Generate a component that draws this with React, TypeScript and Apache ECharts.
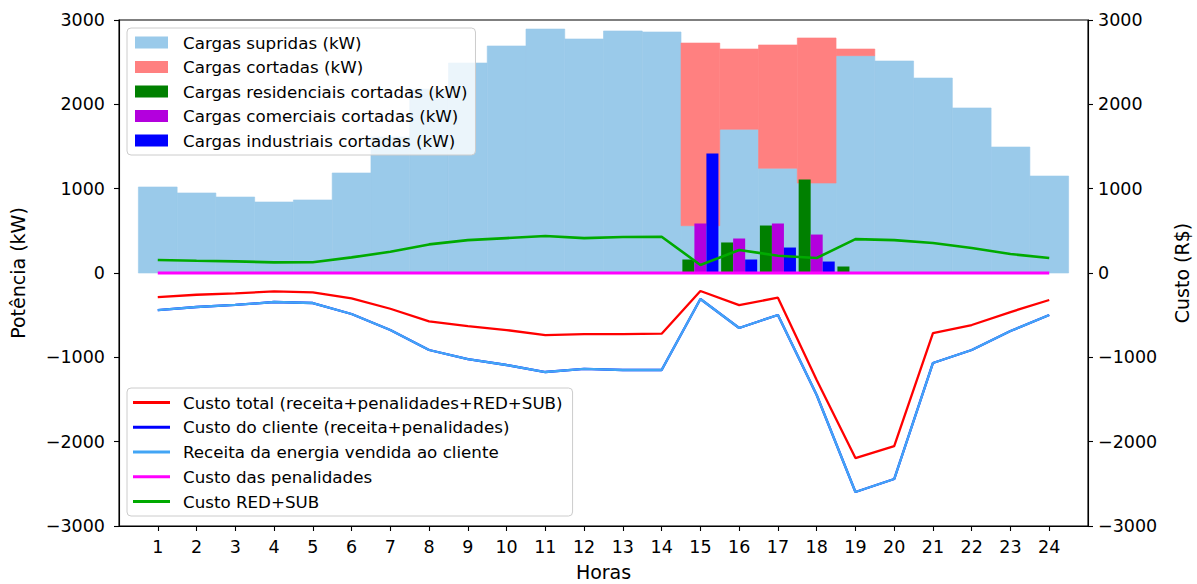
import React, { useEffect, useRef } from "react";
import * as echarts from "echarts";

// Hours of the day (x axis)
const hours = [1, 2, 3, 4, 5, 6, 7, 8, 9, 10, 11, 12, 13, 14, 15, 16, 17, 18, 19, 20, 21, 22, 23, 24];

// Power (kW)
const suppliedLoad = [1020, 949, 901, 842, 866, 1186, 1613, 2180, 2490, 2692, 2893, 2775, 2870, 2858, 561, 1704, 1242, 1067, 2577, 2514, 2312, 1957, 1494, 1150];
const cutLoad = [0, 0, 0, 0, 0, 0, 0, 0, 0, 0, 0, 0, 0, 0, 2166, 952, 1462, 1720, 79, 0, 0, 0, 0, 0];
const residentialCut = [0, 0, 0, 0, 0, 0, 0, 0, 0, 0, 0, 0, 0, 0, 160, 362, 563, 1109, 77, 0, 0, 0, 0, 0];
const commercialCut = [0, 0, 0, 0, 0, 0, 0, 0, 0, 0, 0, 0, 0, 0, 587, 409, 587, 456, 0, 0, 0, 0, 0, 0];
const industrialCut = [0, 0, 0, 0, 0, 0, 0, 0, 0, 0, 0, 0, 0, 0, 1417, 160, 302, 136, 0, 0, 0, 0, 0, 0];

// Costs (R$)
const totalCost = [-285, -258, -241, -218, -229, -301, -424, -574, -630, -677, -736, -724, -724, -720, -213, -380, -293, -1269, -2195, -2053, -712, -617, -463, -320];
const clientCost = [-439, -403, -379, -344, -356, -486, -676, -913, -1020, -1091, -1174, -1138, -1150, -1150, -308, -652, -498, -1447, -2597, -2443, -1067, -913, -688, -498];
const energyRevenue = [-439, -403, -379, -344, -356, -486, -676, -913, -1020, -1091, -1174, -1138, -1150, -1150, -308, -652, -498, -1447, -2597, -2443, -1067, -913, -688, -498];
const penaltyCost = [0, 0, 0, 0, 0, 0, 0, 0, 0, 0, 0, 0, 0, 0, 0, 0, 0, 0, 0, 0, 0, 0, 0, 0];
const redSubCost = [154, 145, 138, 126, 127, 185, 252, 339, 390, 414, 438, 414, 426, 430, 95, 272, 205, 178, 402, 390, 355, 296, 225, 178];

const yTicks = [-3000, -2000, -1000, 0, 1000, 2000, 3000];

const FONT = "DejaVu Sans";
const fmt = (v: number) => String(v).replace("-", "\u2212");

type Row = number[];

function rectSeries(name: string, color: string, data: Row[], width: number, offset: number, z: number, seamless: boolean) {
  return {
    type: "custom",
    name,
    z,
    xAxisIndex: 0,
    yAxisIndex: 0,
    itemStyle: { color },
    encode: { x: 0, y: 2 },
    data,
    renderItem: (_params: any, api: any) => {
      const x = api.value(0) as number;
      const lo = api.value(1) as number;
      const hi = api.value(2) as number;
      if (hi === lo) return null;
      const a = api.coord([x + offset - width / 2, lo]);
      const b = api.coord([x + offset + width / 2, hi]);
      return {
        type: "rect",
        shape: { x: a[0], y: b[1], width: b[0] - a[0], height: a[1] - b[1] },
        style: seamless ? { fill: color, stroke: color, lineWidth: 0.6 } : { fill: color },
      };
    },
  };
}

function lineSeries(name: string, color: string, values: number[], width: number, z: number) {
  return {
    type: "line",
    name,
    z,
    xAxisIndex: 0,
    yAxisIndex: 1,
    data: hours.map((h, i) => [h, values[i]]),
    symbol: "none",
    lineStyle: { color, width },
    itemStyle: { color },
  };
}

export default function App() {
  const ref = useRef<HTMLDivElement>(null);

  useEffect(() => {
    if (!ref.current) return;
    const chart = echarts.init(ref.current, undefined, { renderer: "svg" });

    const barW = 0.31;
    const option: any = {
      animation: false,
      backgroundColor: "#ffffff",
      textStyle: { fontFamily: FONT },
      grid: {
        left: 119,
        right: 109,
        top: 20,
        bottom: 58,
        containLabel: false,
        outerBoundsMode: "none",
        show: true,
        borderColor: "#000",
        borderWidth: 1.1,
        backgroundColor: "transparent",
      },
      xAxis: {
        type: "value",
        min: 0,
        max: 25,
        interval: 1,
        name: "Horas",
        nameLocation: "middle",
        nameGap: 36,
        nameTextStyle: { fontFamily: FONT, fontSize: 19, color: "#000" },
        splitLine: { show: false },
        axisLine: { show: true, onZero: false, lineStyle: { color: "#000", width: 1.1 } },
        axisTick: { show: true, length: 5, lineStyle: { color: "#000", width: 1.1 }, customValues: hours },
        axisLabel: { fontFamily: FONT, fontSize: 17.5, color: "#000", margin: 12, customValues: hours },
      },
      yAxis: [
        {
          type: "value",
          min: -3000,
          max: 3000,
          interval: 1000,
          position: "left",
          name: "Potência (kW)",
          nameLocation: "middle",
          nameGap: 92,
          nameRotate: 90,
          nameTextStyle: { fontFamily: FONT, fontSize: 19, color: "#000" },
          splitLine: { show: false },
          axisLine: { show: true, onZero: false, lineStyle: { color: "#000", width: 1.1 } },
          axisTick: { show: true, length: 5, lineStyle: { color: "#000", width: 1.1 } },
          axisLabel: { fontFamily: FONT, fontSize: 17.5, color: "#000", margin: 14, formatter: fmt, customValues: yTicks },
        },
        {
          type: "value",
          min: -3000,
          max: 3000,
          interval: 1000,
          position: "right",
          name: "Custo (R$)",
          nameLocation: "middle",
          nameGap: 84,
          nameRotate: 90,
          nameTextStyle: { fontFamily: FONT, fontSize: 19, color: "#000" },
          splitLine: { show: false },
          axisLine: { show: true, onZero: false, lineStyle: { color: "#000", width: 1.1 } },
          axisTick: { show: true, length: 5, lineStyle: { color: "#000", width: 1.1 } },
          axisLabel: { fontFamily: FONT, fontSize: 17.5, color: "#000", margin: 10, formatter: fmt, customValues: yTicks },
        },
      ],
      legend: [
        {
          orient: "vertical",
          left: 127,
          top: 28,
          z: 10,
          padding: [5, 8, 5, 8],
          itemGap: 5.5,
          itemWidth: 33,
          itemHeight: 12,
          backgroundColor: "rgba(255,255,255,0.8)",
          borderColor: "#cccccc",
          borderWidth: 1,
          borderRadius: 4,
          textStyle: { fontFamily: FONT, fontSize: 16.7, color: "#000", lineHeight: 19, padding: [0, 0, 0, 10] },
          data: [
            { name: "Cargas supridas (kW)", icon: "rect" },
            { name: "Cargas cortadas (kW)", icon: "rect" },
            { name: "Cargas residenciais cortadas (kW)", icon: "rect" },
            { name: "Cargas comerciais cortadas (kW)", icon: "rect" },
            { name: "Cargas industriais cortadas (kW)", icon: "rect" },
          ],
        },
        {
          orient: "vertical",
          left: 127,
          top: 388,
          z: 10,
          padding: [5, 10, 5, 6],
          itemGap: 5.75,
          itemWidth: 37,
          itemHeight: 3,
          backgroundColor: "rgba(255,255,255,0.8)",
          borderColor: "#cccccc",
          borderWidth: 1,
          borderRadius: 4,
          textStyle: { fontFamily: FONT, fontSize: 16.7, color: "#000", lineHeight: 19, padding: [0, 0, 0, 8] },
          data: [
            { name: "Custo total (receita+penalidades+RED+SUB)", icon: "rect" },
            { name: "Custo do cliente (receita+penalidades)", icon: "rect" },
            { name: "Receita da energia vendida ao cliente", icon: "rect" },
            { name: "Custo das penalidades", icon: "rect" },
            { name: "Custo RED+SUB", icon: "rect" },
          ],
        },
      ],
      series: [
        rectSeries("Cargas supridas (kW)", "#9acaea", hours.map((h, i) => [h, 0, suppliedLoad[i]]), 1, 0, 2, true),
        rectSeries(
          "Cargas cortadas (kW)",
          "#ff8080",
          hours.map((h, i) => [h, suppliedLoad[i], suppliedLoad[i] + cutLoad[i]]),
          1,
          0,
          2,
          true
        ),
        rectSeries("Cargas residenciais cortadas (kW)", "#008000", hours.map((h, i) => [h, 0, residentialCut[i]]), barW, -barW, 3, false),
        rectSeries("Cargas comerciais cortadas (kW)", "#b300dd", hours.map((h, i) => [h, 0, commercialCut[i]]), barW, 0, 3, false),
        rectSeries("Cargas industriais cortadas (kW)", "#0000ff", hours.map((h, i) => [h, 0, industrialCut[i]]), barW, barW, 3, false),
        lineSeries("Custo total (receita+penalidades+RED+SUB)", "#ff0000", totalCost, 2.3, 5),
        lineSeries("Custo do cliente (receita+penalidades)", "#0000ff", clientCost, 2.3, 5),
        lineSeries("Receita da energia vendida ao cliente", "#42a5f5", energyRevenue, 2.3, 5),
        lineSeries("Custo das penalidades", "#ff00ff", penaltyCost, 3, 5),
        lineSeries("Custo RED+SUB", "#00aa00", redSubCost, 2.6, 5),
      ],
    };

    chart.setOption(option);
    return () => chart.dispose();
  }, []);

  return <div ref={ref} style={{ position: "fixed", left: 0, top: 0, width: 1197, height: 584 }} />;
}
